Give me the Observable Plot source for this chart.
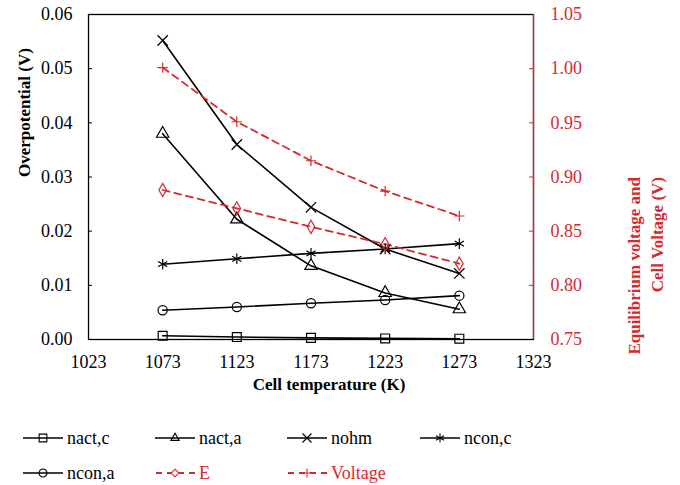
<!DOCTYPE html>
<html><head><meta charset="utf-8">
<script src="https://cdn.jsdelivr.net/npm/d3@7"></script>
<script src="https://cdn.jsdelivr.net/npm/@observablehq/plot@0.6"></script>
<style>
body{margin:0;background:#fff;font-family:serif;}
#chart svg{display:block;}
#legend{position:relative;width:680px;height:85px;font-size:18px;font-family:serif;}
.lrow{position:absolute;left:0;height:30px;width:680px;}
.litem{position:absolute;top:0;height:30px;display:flex;align-items:center;font-family:serif;}
.litem svg{display:block;margin-right:4px;}
</style>
</head><body>
<div id="chart"></div>
<div id="legend"></div>
<script>
// ---- data ----
const temps = [1073, 1123, 1173, 1223, 1273];
const nactC = [0.0007, 0.00045, 0.0003, 0.0002, 0.00015];
const nactA = [0.038, 0.0222, 0.0136, 0.0086, 0.0056];
const nohm = [0.0552, 0.036, 0.0244, 0.0167, 0.0122];
const nconC = [0.0139, 0.0149, 0.0159, 0.0167, 0.0177];
const nconA = [0.0054, 0.0060, 0.0067, 0.0073, 0.0081];
const eqE = [0.888, 0.871, 0.854, 0.838, 0.820];
const voltage = [1.001, 0.951, 0.915, 0.887, 0.864];
const seriesNames = ["nact,c", "nact,a", "nohm", "ncon,c", "ncon,a", "E", "Voltage"];
const xTicks = [1023, 1073, 1123, 1173, 1223, 1273, 1323];
const leftTicks = [0, 0.01, 0.02, 0.03, 0.04, 0.05, 0.06];
const rightTicks = [0.75, 0.80, 0.85, 0.90, 0.95, 1.00, 1.05];

// ---- styles ----
const FONT = "serif";
const RED = "#d42a2f";
const values = [nactC, nactA, nohm, nconC, nconA, eqE, voltage];
const styles = [
  {symbol: "square", r: 5, color: "black", right: false},
  {symbol: "triangle", r: 4.6, color: "black", right: false},
  {symbol: "times", r: 4.8, color: "black", right: false},
  {symbol: "asterisk", r: 5, color: "black", right: false},
  {symbol: "circle", r: 4.6, color: "black", right: false},
  {symbol: "diamond", r: 4, color: RED, right: true},
  {symbol: "plus", r: 3.4, color: RED, right: true}
];
// right axis (0.75 to 1.05) mapped onto left axis (0 to 0.06)
const rMin = 0.75, rMax = 1.05, lMax = 0.06;
const toLeft = v => (v - rMin) / (rMax - rMin) * lMax;
const fromLeft = v => v / lMax * (rMax - rMin) + rMin;

const rows = [];
seriesNames.forEach((name, i) => {
  temps.forEach((t, j) => rows.push({series: name, t, v: values[i][j], y: styles[i].right ? toLeft(values[i][j]) : values[i][j]}));
});

const W = 680, H = 400, mL = 88, mR = 147, mT = 14, mB = 61;
const innerW = W - mL - mR;

const marks = [
  Plot.frame({stroke: "black", strokeWidth: 1.3}),
  Plot.ruleX([1323], {stroke: RED, strokeWidth: 1.3}),
  Plot.tickY(leftTicks.slice(1, -1), {y: d => d, stroke: "black", insetRight: innerW - 4}),
  Plot.tickY(rightTicks.slice(1, -1), {y: d => toLeft(d), stroke: RED, insetLeft: innerW - 4}),
  Plot.axisX({ticks: xTicks, tickFormat: d => String(d), tickSize: 0, tickPadding: 16, label: null, fontSize: 18, fontFamily: FONT}),
  Plot.axisY({anchor: "left", ticks: leftTicks, tickFormat: d => d.toFixed(2), tickSize: 0, tickPadding: 16, label: null, fontSize: 18, fontFamily: FONT}),
  Plot.axisY({anchor: "right", ticks: rightTicks.map(toLeft), tickFormat: d => fromLeft(d).toFixed(2), tickSize: 0, tickPadding: 17, label: null, fill: RED, fontSize: 18, fontFamily: FONT}),
  Plot.text(["Overpotential (V)"], {frameAnchor: "left", rotate: -90, dx: -64, fontWeight: "bold", fontSize: 17, fontFamily: FONT}),
  Plot.text(["Cell temperature (K)"], {frameAnchor: "bottom", dx: 18, dy: 50, fontWeight: "bold", fontSize: 17, fontFamily: FONT}),
  Plot.text(["Equilibrium voltage and\nCell Voltage (V)"], {frameAnchor: "right", rotate: -90, dx: 111, lineHeight: 1.35, fontWeight: "bold", fontSize: 17, fill: RED, fontFamily: FONT})
];
seriesNames.forEach((name, i) => {
  const s = styles[i];
  const data = rows.filter(d => d.series === name);
  marks.push(Plot.line(data, {x: "t", y: "y", stroke: s.color, strokeWidth: s.right ? 1.8 : 1.6, strokeDasharray: s.right ? "7,5" : null}));
});
seriesNames.forEach((name, i) => {
  const s = styles[i];
  const data = rows.filter(d => d.series === name);
  marks.push(Plot.dot(data, {x: "t", y: "y", symbol: () => s.symbol, r: s.r, stroke: s.color, fill: "none", strokeWidth: 1.2}));
});

const chart = Plot.plot({
  width: W, height: H,
  marginLeft: mL, marginRight: mR, marginTop: mT, marginBottom: mB,
  style: {fontFamily: FONT, fontSize: "18px", color: "black", background: "white"},
  x: {domain: [1023, 1323]},
  y: {domain: [0, lMax]},
  symbol: {type: "identity"},
  marks
});
document.getElementById("chart").appendChild(chart);

// ---- legend ----
const legend = document.getElementById("legend");
const colLeft = [23, 155, 287, 420];
const rowTop = [23, 58];
const symMap = {square: d3.symbolSquare, triangle: d3.symbolTriangle2, times: d3.symbolTimes, asterisk: d3.symbolAsterisk, circle: d3.symbolCircle, diamond: d3.symbolDiamond2, plus: d3.symbolPlus};
const rowEls = rowTop.map(t => { const r = document.createElement("div"); r.className = "lrow"; r.style.top = t + "px"; legend.appendChild(r); return r; });
seriesNames.forEach((name, i) => {
  const s = styles[i];
  const item = document.createElement("div");
  item.className = "litem";
  item.style.left = colLeft[i % 4] + "px";
  const sz = Math.PI * s.r * s.r * 0.75;
  const path = d3.symbol(symMap[s.symbol], sz)();
  item.innerHTML = `<svg width="40" height="20"><line x1="0" x2="40" y1="10" y2="10" stroke="${s.color}" stroke-width="${s.right ? 1.8 : 1.6}" ${s.right ? 'stroke-dasharray="6,5" stroke-dashoffset="-1"' : ''}/><path transform="translate(20,10)" d="${path}" fill="${s.right ? 'white' : 'none'}" stroke="${s.color}" stroke-width="1.1"/></svg><span style="color:${s.color};font-family:serif">${name}</span>`;
  rowEls[Math.floor(i / 4)].appendChild(item);
});
</script>
</body></html>
